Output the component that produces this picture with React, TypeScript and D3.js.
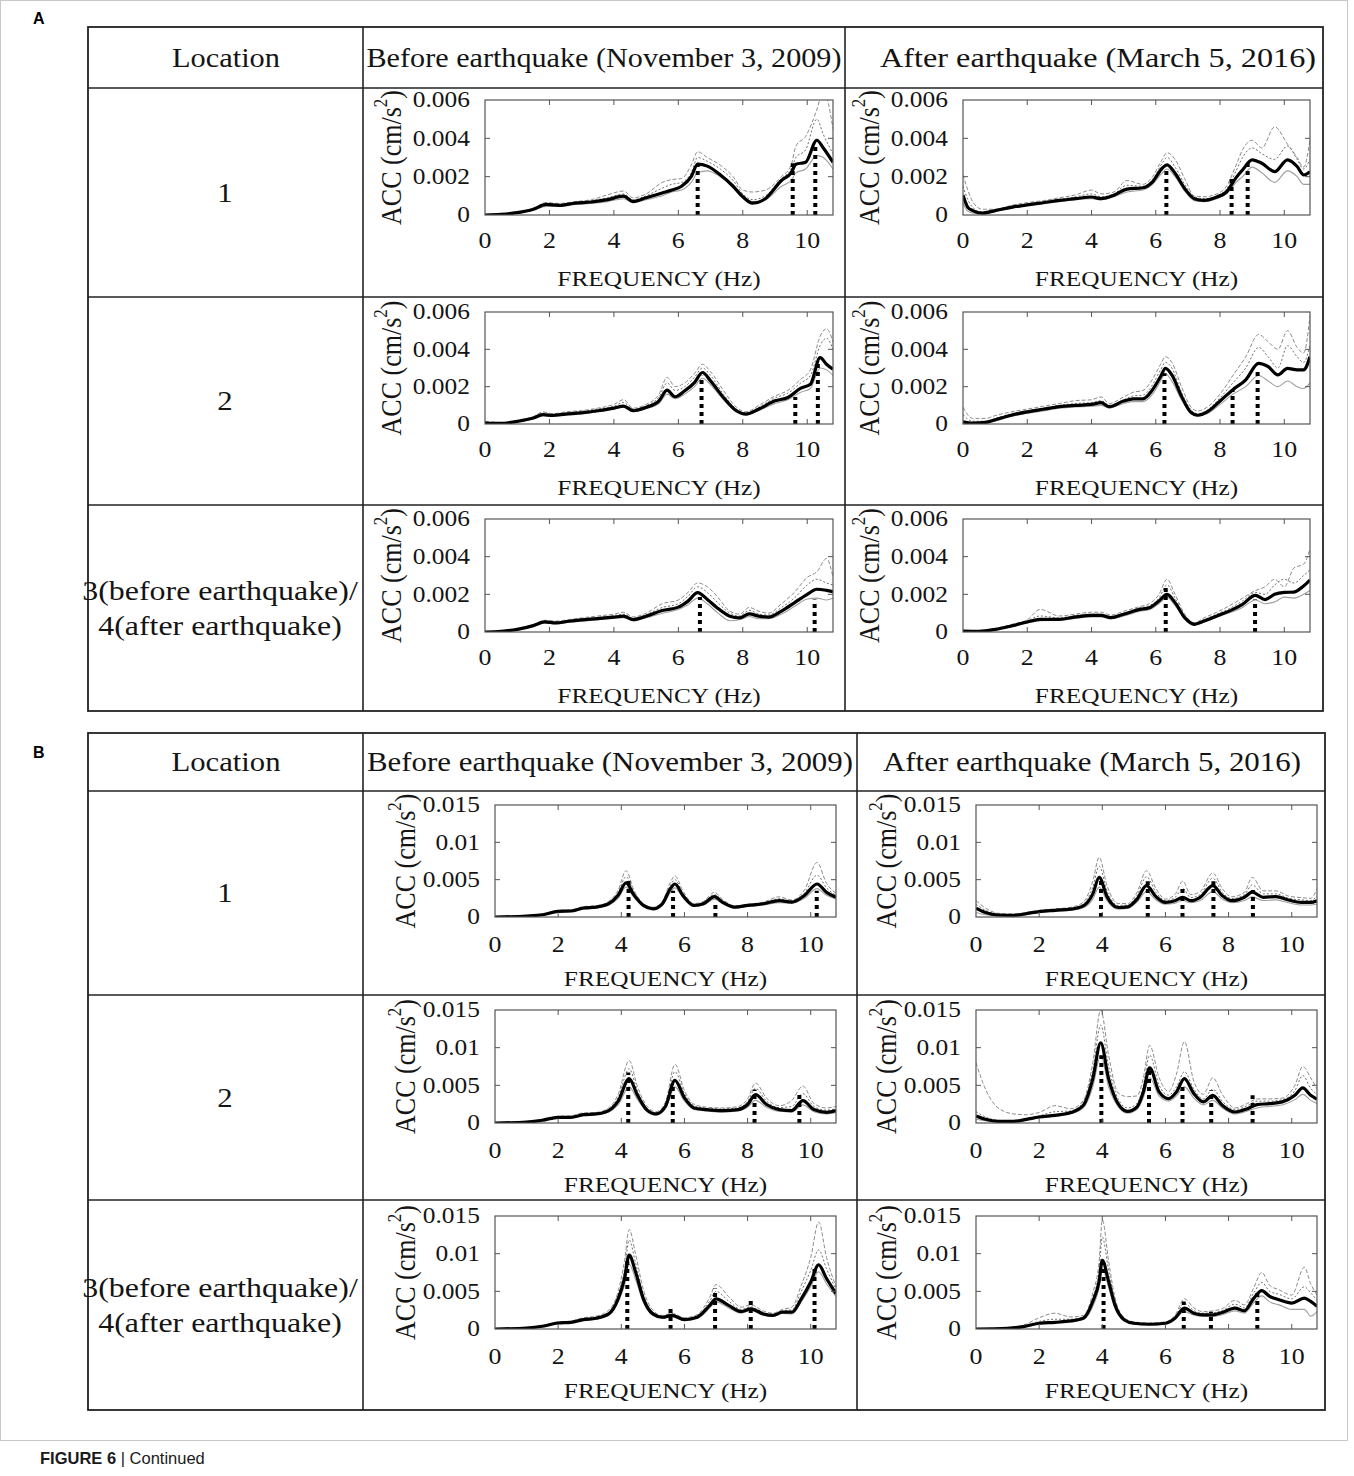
import React from 'react';
import * as d3 from 'd3';

const SERIF = '"Liberation Serif", "Times New Roman", Times, serif';
const SANS = '"Liberation Sans", Arial, Helvetica, sans-serif';
const SX = 1.15;
const X_MAX = 10.8;

// ---------- tick definitions ----------
const X_TICKS = [0, 2, 4, 6, 8, 10];
const Y_TICKS_A = [0, 2, 4, 6]; // units of 1e-3 cm/s^2
const Y_LABELS_A = ['0', '0.002', '0.004', '0.006'];
const Y_TICKS_B = [0, 5, 10, 15];
const Y_LABELS_B = ['0', '0.005', '0.01', '0.015'];

const HEADERS = ['Location', 'Before earthquake (November 3, 2009)', 'After earthquake (March 5, 2016)'];
const ROW_LABELS = [['1'], ['2'], ['3(before earthquake)/', '4(after earthquake)']];

// ---------- data (values in 1e-3 cm/s^2) ----------
// A, location 1, before
const A1B_F = [0, 0.5, 1, 1.5, 1.9, 2.3, 2.8, 3.3, 3.8, 4.3, 4.6, 5.0, 5.5, 5.8, 6.1, 6.4, 6.6, 6.9, 7.3, 7.7, 8.0, 8.3, 8.7, 9.2, 9.5, 9.65, 9.95, 10.3, 10.5, 10.8];
const A1B_MEAN = [0, 0.03, 0.12, 0.3, 0.55, 0.5, 0.62, 0.68, 0.8, 0.98, 0.7, 0.9, 1.15, 1.3, 1.5, 2.0, 2.65, 2.55, 2.1, 1.5, 0.95, 0.62, 0.85, 1.8, 2.2, 2.65, 2.75, 3.9, 3.5, 2.75];
const A1B_G1 = [0, 0.05, 0.15, 0.35, 0.65, 0.6, 0.7, 0.8, 1.05, 1.25, 0.9, 1.1, 1.7, 1.85, 1.9, 2.6, 3.3, 3.0, 2.6, 2.0, 1.3, 1.2, 1.3, 2.0, 2.6, 3.6, 4.1, 5.5, 6.5, 4.5];
const A1B_G2 = [0, 0.04, 0.13, 0.32, 0.6, 0.55, 0.66, 0.75, 0.9, 1.1, 0.8, 1.0, 1.4, 1.6, 1.7, 2.2, 3.0, 2.8, 2.4, 1.8, 1.1, 0.8, 1.0, 1.9, 2.4, 3.0, 3.4, 5.0, 4.2, 3.2];
const A1B_G3 = [0, 0.02, 0.1, 0.25, 0.45, 0.45, 0.55, 0.6, 0.7, 0.85, 0.65, 0.8, 1.0, 1.2, 1.3, 1.7, 2.2, 2.3, 2.0, 1.5, 1.0, 0.7, 0.8, 1.5, 1.8, 2.2, 2.4, 3.1, 3.0, 2.4];
const A1B_PEAKS = [[6.6, 2.6], [9.55, 2.7], [10.25, 3.6]];

// A, location 1, after
const A1A_F = [0, 0.15, 0.3, 0.6, 1.0, 1.5, 2.0, 2.5, 3.0, 3.5, 4.0, 4.3, 4.7, 5.1, 5.6, 5.9, 6.2, 6.35, 6.6, 6.9, 7.2, 7.5, 7.9, 8.2, 8.5, 8.7, 9.0, 9.3, 9.7, 10.1, 10.4, 10.6, 10.8];
const A1A_MEAN = [1.03, 0.4, 0.23, 0.1, 0.23, 0.4, 0.53, 0.64, 0.76, 0.85, 0.94, 0.85, 1.03, 1.35, 1.42, 1.73, 2.44, 2.62, 2.18, 1.38, 0.85, 0.76, 0.94, 1.2, 1.95, 2.35, 2.88, 2.7, 2.26, 2.88, 2.53, 2.09, 2.26];
const A1A_G1 = [2.1, 1.3, 0.7, 0.3, 0.3, 0.5, 0.65, 0.75, 0.9, 1.05, 1.3, 1.1, 1.2, 1.8, 1.6, 2.0, 2.9, 3.25, 2.9, 1.9, 1.0, 0.95, 1.1, 1.5, 2.6, 3.4, 3.9, 3.5, 4.6, 3.7, 3.0, 2.5, 3.9];
const A1A_G2 = [1.5, 0.8, 0.4, 0.15, 0.25, 0.45, 0.58, 0.7, 0.82, 0.95, 1.1, 0.95, 1.1, 1.55, 1.5, 1.85, 2.7, 3.0, 2.5, 1.6, 0.95, 0.85, 1.0, 1.35, 2.3, 3.0, 3.5, 3.2, 2.9, 3.6, 2.9, 2.4, 2.9];
const A1A_G3 = [0.6, 0.2, 0.1, 0.05, 0.18, 0.35, 0.5, 0.6, 0.7, 0.8, 0.85, 0.8, 0.95, 1.2, 1.3, 1.6, 2.2, 2.4, 2.0, 1.25, 0.75, 0.7, 0.85, 1.1, 1.7, 2.0, 2.5, 2.2, 1.7, 2.3, 2.0, 1.6, 1.6];
const A1A_PEAKS = [[6.33, 2.35], [8.36, 2.0], [8.86, 2.7]];

// A, location 2, before
const A2B_F = [0, 0.5, 1.0, 1.5, 1.8, 2.1, 2.5, 3.0, 3.5, 4.0, 4.3, 4.6, 5.0, 5.4, 5.65, 5.9, 6.2, 6.5, 6.75, 7.0, 7.4, 7.8, 8.1, 8.5, 9.0, 9.4, 9.8, 10.1, 10.4, 10.6, 10.8];
const A2B_MEAN = [0.05, 0.03, 0.14, 0.32, 0.5, 0.46, 0.53, 0.6, 0.71, 0.85, 0.96, 0.71, 0.89, 1.24, 1.81, 1.46, 1.78, 2.22, 2.76, 2.31, 1.42, 0.71, 0.53, 0.8, 1.24, 1.42, 1.92, 2.13, 3.56, 3.2, 2.93];
const A2B_G1 = [0.15, 0.08, 0.18, 0.4, 0.65, 0.55, 0.65, 0.72, 0.85, 1.05, 1.3, 0.85, 1.05, 1.6, 2.5, 2.0, 2.2, 2.7, 3.2, 2.8, 1.8, 0.9, 0.65, 1.0, 1.5, 1.8, 2.4, 2.9, 4.7, 5.1, 4.4];
const A2B_G2 = [0.08, 0.05, 0.16, 0.36, 0.58, 0.5, 0.6, 0.68, 0.8, 0.95, 1.15, 0.8, 0.98, 1.45, 2.2, 1.8, 2.0, 2.5, 3.0, 2.6, 1.6, 0.8, 0.6, 0.9, 1.4, 1.65, 2.2, 2.6, 4.2, 4.6, 4.0];
const A2B_G3 = [0.02, 0.02, 0.1, 0.28, 0.45, 0.42, 0.5, 0.56, 0.66, 0.8, 0.9, 0.66, 0.82, 1.1, 1.6, 1.35, 1.6, 2.0, 2.45, 2.1, 1.3, 0.65, 0.5, 0.72, 1.1, 1.3, 1.7, 1.9, 3.0, 2.9, 2.6];
const A2B_PEAKS = [[6.72, 2.58], [9.63, 1.45], [10.33, 3.3]];

// A, location 2, after
const A2A_F = [0, 0.3, 0.7, 1.0, 1.5, 2.0, 2.5, 3.0, 3.5, 4.0, 4.3, 4.55, 5.0, 5.3, 5.6, 5.9, 6.15, 6.3, 6.5, 6.8, 7.1, 7.3, 7.6, 8.0, 8.4, 8.8, 9.2, 9.5, 9.8, 10.1, 10.4, 10.6, 10.8];
const A2A_MEAN = [0.12, 0.05, 0.09, 0.23, 0.47, 0.65, 0.79, 0.93, 1.0, 1.05, 1.14, 0.93, 1.23, 1.35, 1.35, 1.84, 2.54, 2.98, 2.63, 1.49, 0.61, 0.47, 0.65, 1.23, 1.84, 2.37, 3.25, 3.07, 2.63, 2.98, 2.9, 2.9, 3.6];
const A2A_G1 = [0.9, 0.3, 0.3, 0.45, 0.65, 0.8, 0.95, 1.1, 1.25, 1.3, 1.45, 1.1, 1.45, 1.7, 1.8, 2.4, 3.2, 3.6, 3.3, 2.0, 0.9, 0.7, 0.9, 1.6, 2.6, 3.6, 4.8, 4.4, 4.0, 5.0, 4.1, 3.8, 5.8];
const A2A_G2 = [0.5, 0.15, 0.15, 0.3, 0.55, 0.72, 0.85, 1.0, 1.1, 1.15, 1.25, 1.0, 1.3, 1.5, 1.55, 2.1, 2.9, 3.3, 3.0, 1.7, 0.75, 0.55, 0.75, 1.4, 2.2, 3.0, 4.1, 3.6, 3.0, 4.2, 3.6, 3.3, 4.2];
const A2A_G3 = [0.05, 0.02, 0.05, 0.15, 0.4, 0.58, 0.7, 0.85, 0.92, 0.95, 1.0, 0.85, 1.1, 1.2, 1.2, 1.6, 2.3, 2.7, 2.3, 1.3, 0.55, 0.42, 0.55, 1.05, 1.6, 2.0, 2.6, 2.3, 2.0, 2.3, 2.0, 1.9, 2.2];
const A2A_PEAKS = [[6.27, 2.72], [8.39, 1.84], [9.17, 2.98]];

// A, location 3, before
const A3B_F = [0, 0.5, 1.0, 1.5, 1.85, 2.2, 2.6, 3.0, 3.5, 4.0, 4.3, 4.6, 5.0, 5.5, 6.0, 6.3, 6.6, 6.9, 7.2, 7.6, 7.9, 8.2, 8.5, 8.8, 9.2, 9.6, 10.0, 10.3, 10.6, 10.8];
const A3B_MEAN = [0, 0.04, 0.14, 0.34, 0.54, 0.48, 0.57, 0.64, 0.71, 0.79, 0.84, 0.66, 0.84, 1.14, 1.32, 1.64, 2.09, 1.73, 1.29, 0.84, 0.75, 0.96, 0.84, 0.79, 1.11, 1.55, 2.0, 2.27, 2.21, 2.14];
const A3B_G1 = [0.02, 0.06, 0.18, 0.4, 0.62, 0.58, 0.66, 0.75, 0.85, 0.95, 1.05, 0.8, 1.0, 1.5, 1.7, 2.1, 2.6, 2.4, 1.9, 1.1, 0.95, 1.3, 1.1, 1.0, 1.5, 2.1, 2.9, 3.2, 3.9, 2.9];
const A3B_G2 = [0.01, 0.05, 0.16, 0.37, 0.58, 0.53, 0.62, 0.7, 0.78, 0.87, 0.95, 0.73, 0.92, 1.3, 1.5, 1.9, 2.4, 2.1, 1.6, 1.0, 0.85, 1.15, 0.95, 0.9, 1.3, 1.8, 2.5, 2.8, 2.6, 2.5];
const A3B_G3 = [0, 0.02, 0.1, 0.3, 0.48, 0.44, 0.52, 0.58, 0.65, 0.72, 0.76, 0.6, 0.76, 1.0, 1.2, 1.45, 1.8, 1.5, 1.05, 0.6, 0.65, 0.82, 0.7, 0.7, 0.95, 1.35, 1.75, 1.8, 1.7, 1.8];
const A3B_PEAKS = [[6.67, 1.86], [10.23, 1.73]];

// A, location 4, after
const A3A_F = [0, 0.5, 1.0, 1.5, 2.0, 2.4, 3.0, 3.5, 4.0, 4.3, 4.6, 5.0, 5.5, 5.8, 6.1, 6.35, 6.6, 6.9, 7.2, 7.5, 7.9, 8.3, 8.7, 9.1, 9.4, 9.7, 10.0, 10.3, 10.6, 10.8];
const A3A_MEAN = [0.05, 0.04, 0.14, 0.32, 0.53, 0.67, 0.67, 0.8, 0.88, 0.88, 0.76, 0.94, 1.2, 1.29, 1.65, 2.0, 1.56, 0.76, 0.41, 0.58, 0.85, 1.12, 1.47, 1.95, 1.72, 2.0, 2.1, 2.12, 2.44, 2.76];
const A3A_G1 = [0.08, 0.06, 0.18, 0.4, 0.65, 1.2, 0.85, 0.95, 1.05, 1.05, 0.9, 1.1, 1.35, 1.5, 2.0, 2.8, 2.0, 0.95, 0.5, 0.75, 1.05, 1.4, 1.8, 2.2, 2.4, 2.8, 2.4, 3.4, 3.6, 4.4];
const A3A_G2 = [0.06, 0.05, 0.16, 0.36, 0.6, 0.85, 0.75, 0.88, 0.95, 0.95, 0.82, 1.0, 1.28, 1.4, 1.8, 2.5, 1.8, 0.85, 0.45, 0.66, 0.95, 1.25, 1.65, 2.1, 2.0, 2.5, 2.8, 2.6, 3.0, 3.3];
const A3A_G3 = [0.03, 0.02, 0.1, 0.28, 0.48, 0.6, 0.62, 0.72, 0.8, 0.8, 0.7, 0.85, 1.1, 1.18, 1.5, 1.85, 1.4, 0.7, 0.38, 0.52, 0.78, 1.02, 1.3, 1.7, 1.5, 1.6, 1.85, 1.8, 2.0, 2.2];
const A3A_PEAKS = [[6.31, 2.53], [9.09, 1.73]];

// B, location 1, before
const B1B_F = [0, 1.0, 1.5, 2.0, 2.4, 2.8, 3.2, 3.6, 3.9, 4.15, 4.4, 4.7, 5.0, 5.3, 5.55, 5.7, 5.95, 6.3, 6.6, 6.95, 7.2, 7.6, 8.0, 8.5, 9.0, 9.4, 9.8, 10.2, 10.5, 10.8];
const B1B_MEAN = [0, 0.13, 0.3, 0.75, 0.8, 1.2, 1.33, 1.77, 2.9, 4.56, 2.96, 1.55, 1.1, 1.77, 3.76, 4.42, 2.88, 1.55, 1.77, 2.74, 2.0, 1.33, 1.55, 1.77, 2.2, 2.0, 2.88, 4.42, 3.3, 2.65];
const B1B_G1 = [0.05, 0.2, 0.4, 0.9, 0.95, 1.4, 1.5, 2.1, 3.6, 6.2, 3.6, 1.8, 1.3, 2.1, 4.6, 5.5, 3.5, 1.8, 2.1, 3.3, 2.4, 1.5, 1.7, 2.0, 2.7, 2.3, 3.6, 7.3, 4.5, 3.2];
const B1B_G2 = [0.02, 0.17, 0.35, 0.82, 0.88, 1.3, 1.42, 1.95, 3.3, 5.4, 3.3, 1.7, 1.2, 1.95, 4.2, 5.0, 3.2, 1.65, 1.95, 3.0, 2.2, 1.42, 1.62, 1.9, 2.45, 2.15, 3.2, 5.6, 3.9, 2.9];
const B1B_G3 = [0, 0.1, 0.25, 0.65, 0.72, 1.05, 1.2, 1.6, 2.5, 4.0, 2.6, 1.4, 1.0, 1.6, 3.3, 3.9, 2.6, 1.4, 1.6, 2.4, 1.8, 1.2, 1.4, 1.6, 1.9, 1.85, 2.5, 3.8, 2.9, 2.4];
const B1B_PEAKS = [[4.23, 4.9], [5.64, 3.5], [6.98, 2.0], [10.19, 3.5]];

// B, location 1, after
const B1A_F = [0, 0.3, 0.7, 1.2, 1.6, 2.0, 2.5, 3.0, 3.4, 3.7, 3.9, 4.15, 4.5, 4.8, 5.1, 5.4, 5.7, 6.0, 6.3, 6.55, 6.8, 7.1, 7.5, 7.8, 8.1, 8.5, 8.75, 9.1, 9.5, 9.9, 10.3, 10.6, 10.8];
const B1A_MEAN = [1.18, 0.6, 0.27, 0.23, 0.45, 0.73, 0.9, 1.05, 1.5, 3.1, 5.3, 2.73, 1.27, 1.36, 2.4, 4.2, 2.73, 1.95, 2.18, 2.64, 2.18, 2.64, 4.2, 2.86, 2.18, 2.64, 3.32, 2.64, 2.73, 2.27, 1.95, 1.95, 2.18];
const B1A_G1 = [2.2, 1.2, 0.5, 0.4, 0.6, 0.9, 1.1, 1.3, 2.0, 4.8, 8.0, 4.2, 1.8, 1.8, 3.3, 6.2, 3.8, 2.4, 3.0, 4.8, 3.0, 3.4, 5.9, 3.8, 2.7, 3.3, 5.3, 3.5, 3.5, 2.8, 2.6, 2.5, 3.8];
const B1A_G2 = [1.7, 0.9, 0.4, 0.32, 0.52, 0.8, 1.0, 1.18, 1.75, 4.0, 6.8, 3.5, 1.55, 1.6, 2.9, 5.4, 3.3, 2.2, 2.6, 3.8, 2.6, 3.0, 5.2, 3.3, 2.45, 3.0, 4.3, 3.1, 3.1, 2.5, 2.3, 2.2, 2.8];
const B1A_G3 = [0.6, 0.3, 0.15, 0.15, 0.35, 0.6, 0.78, 0.9, 1.25, 2.4, 4.0, 2.2, 1.05, 1.15, 2.0, 3.4, 2.3, 1.7, 1.85, 2.2, 1.9, 2.2, 3.4, 2.4, 1.9, 2.2, 2.7, 2.2, 2.3, 1.9, 1.6, 1.6, 1.7];
const B1A_PEAKS = [[3.96, 5.0], [5.44, 4.8], [6.54, 4.0], [7.52, 4.8], [8.77, 3.6]];

// B, location 2, before
const B2B_F = [0, 1.0, 1.5, 2.0, 2.4, 2.8, 3.2, 3.6, 3.9, 4.25, 4.5, 4.8, 5.1, 5.4, 5.7, 6.0, 6.3, 6.7, 7.2, 7.7, 8.0, 8.25, 8.6, 9.0, 9.4, 9.75, 10.1, 10.5, 10.8];
const B2B_MEAN = [0, 0.13, 0.36, 0.76, 0.76, 1.11, 1.2, 1.65, 2.9, 5.9, 3.8, 1.78, 1.2, 2.22, 5.65, 3.34, 2.0, 1.78, 1.65, 1.78, 2.45, 3.78, 2.45, 1.78, 1.65, 2.98, 1.78, 1.42, 1.65];
const B2B_G1 = [0.05, 0.2, 0.45, 0.9, 0.95, 1.35, 1.4, 2.0, 3.8, 8.3, 5.0, 2.3, 1.5, 2.8, 7.8, 4.3, 2.5, 2.1, 2.0, 2.2, 3.2, 5.3, 3.3, 2.3, 3.0, 4.9, 2.6, 2.0, 2.2];
const B2B_G2 = [0.02, 0.17, 0.4, 0.83, 0.86, 1.25, 1.3, 1.85, 3.4, 7.2, 4.4, 2.05, 1.35, 2.5, 6.8, 3.9, 2.3, 1.95, 1.85, 2.0, 2.85, 4.6, 2.9, 2.05, 2.2, 3.9, 2.2, 1.7, 1.9];
const B2B_G3 = [0, 0.1, 0.3, 0.68, 0.68, 1.0, 1.1, 1.45, 2.4, 4.8, 3.2, 1.55, 1.05, 1.9, 4.8, 2.9, 1.8, 1.6, 1.45, 1.6, 2.1, 3.0, 2.1, 1.55, 1.45, 2.4, 1.5, 1.2, 1.4];
const B2B_PEAKS = [[4.22, 6.7], [5.63, 4.9], [8.22, 4.45], [9.64, 3.9]];

// B, location 2, after
const B2A_F = [0, 0.3, 0.7, 1.2, 1.6, 2.0, 2.5, 3.0, 3.4, 3.7, 3.95, 4.2, 4.5, 4.8, 5.1, 5.3, 5.5, 5.8, 6.1, 6.35, 6.6, 6.9, 7.2, 7.5, 7.8, 8.2, 8.6, 8.9, 9.3, 9.7, 10.1, 10.35, 10.6, 10.8];
const B2A_MEAN = [0.93, 0.49, 0.22, 0.22, 0.49, 0.8, 1.02, 1.38, 2.35, 5.9, 10.65, 5.9, 2.57, 1.55, 2.13, 4.13, 7.32, 4.13, 3.24, 4.13, 5.9, 3.9, 2.8, 3.68, 2.35, 1.46, 1.9, 2.44, 2.57, 2.8, 3.68, 4.66, 3.68, 3.15];
const B2A_G1 = [8.0, 4.5, 2.0, 1.2, 1.1, 1.4, 2.3, 1.9, 3.0, 8.0, 15.0, 9.0, 4.0, 3.5, 3.6, 6.0, 10.3, 6.0, 4.2, 6.5, 10.8, 5.5, 3.8, 6.0, 3.8, 2.0, 2.6, 3.2, 3.2, 3.3, 5.0, 7.5, 6.0, 4.5];
const B2A_G2 = [1.5, 0.8, 0.35, 0.3, 0.6, 0.95, 1.5, 1.6, 2.8, 7.0, 13.0, 7.5, 3.2, 2.0, 2.6, 5.0, 9.0, 5.0, 3.7, 4.8, 6.8, 4.5, 3.2, 4.5, 2.9, 1.8, 2.3, 2.9, 2.9, 3.1, 4.3, 6.3, 4.6, 3.8];
const B2A_G3 = [0.5, 0.3, 0.15, 0.15, 0.4, 0.7, 0.9, 1.2, 2.0, 4.8, 9.0, 4.8, 2.2, 1.3, 1.8, 3.4, 6.0, 3.6, 2.9, 3.6, 4.8, 3.3, 2.4, 3.0, 2.0, 1.2, 1.6, 2.0, 2.2, 2.4, 3.1, 3.8, 3.0, 2.6];
const B2A_PEAKS = [[3.97, 9.0], [5.48, 7.0], [6.54, 5.0], [7.45, 4.35], [8.76, 3.7]];

// B, location 3, before
const B3B_F = [0, 1.0, 1.5, 2.0, 2.4, 2.8, 3.2, 3.6, 3.9, 4.1, 4.25, 4.45, 4.7, 5.0, 5.3, 5.6, 6.0, 6.4, 6.8, 7.0, 7.4, 7.8, 8.1, 8.5, 8.8, 9.1, 9.4, 9.7, 10.0, 10.25, 10.5, 10.8];
const B3B_MEAN = [0, 0.13, 0.36, 0.8, 0.89, 1.25, 1.43, 2.0, 4.0, 6.7, 9.8, 7.6, 4.0, 2.0, 1.56, 1.8, 1.25, 1.56, 3.13, 4.0, 3.13, 2.32, 2.68, 2.0, 1.8, 2.23, 2.23, 4.0, 6.25, 8.5, 6.7, 4.7];
const B3B_G1 = [0.05, 0.2, 0.45, 0.95, 1.05, 1.5, 1.7, 2.5, 5.0, 9.0, 13.2, 10.0, 5.2, 2.5, 1.8, 2.1, 1.5, 1.9, 4.2, 5.9, 4.3, 2.9, 3.2, 2.4, 2.1, 2.6, 2.9, 5.8, 9.5, 14.2, 9.5, 5.6];
const B3B_G2 = [0.02, 0.17, 0.4, 0.87, 0.97, 1.38, 1.56, 2.25, 4.5, 7.8, 11.8, 8.8, 4.6, 2.25, 1.7, 1.95, 1.38, 1.75, 3.7, 5.0, 3.7, 2.6, 2.95, 2.2, 1.95, 2.4, 2.55, 5.0, 7.8, 10.5, 8.0, 5.2];
const B3B_G3 = [0, 0.1, 0.3, 0.72, 0.82, 1.15, 1.3, 1.8, 3.6, 5.8, 8.6, 6.6, 3.5, 1.8, 1.4, 1.65, 1.15, 1.4, 2.8, 3.6, 2.8, 2.1, 2.45, 1.8, 1.65, 2.05, 2.0, 3.6, 5.6, 7.6, 6.0, 4.3];
const B3B_PEAKS = [[4.19, 9.6], [5.56, 2.68], [6.97, 5.36], [8.1, 4.24], [10.12, 8.0]];

// B, location 4, after
const B3A_F = [0, 1.0, 1.5, 2.0, 2.5, 3.0, 3.4, 3.7, 3.9, 4.0, 4.2, 4.4, 4.7, 5.0, 5.5, 6.0, 6.3, 6.6, 6.9, 7.2, 7.5, 7.8, 8.2, 8.5, 8.8, 9.05, 9.3, 9.6, 10.0, 10.4, 10.6, 10.8];
const B3A_MEAN = [0, 0.09, 0.31, 0.76, 0.89, 1.07, 1.43, 3.66, 6.34, 9.1, 6.34, 3.2, 1.2, 0.76, 0.63, 0.76, 1.43, 2.77, 2.1, 1.88, 1.88, 2.19, 2.77, 2.41, 4.1, 5.09, 4.33, 3.88, 3.44, 4.1, 3.66, 3.0];
const B3A_G1 = [0.05, 0.2, 0.5, 1.5, 2.1, 1.6, 1.8, 4.8, 9.0, 14.5, 9.0, 4.2, 1.5, 0.95, 0.8, 0.95, 1.8, 4.0, 2.8, 2.3, 2.4, 2.7, 3.8, 3.2, 5.5, 7.5, 5.8, 5.2, 4.5, 8.2, 6.0, 4.5];
const B3A_G2 = [0.02, 0.15, 0.4, 1.0, 1.3, 1.3, 1.6, 4.2, 7.8, 12.2, 7.8, 3.8, 1.35, 0.85, 0.72, 0.85, 1.6, 3.4, 2.45, 2.1, 2.15, 2.45, 3.3, 2.8, 4.8, 6.2, 5.0, 4.6, 4.0, 5.6, 4.8, 3.8];
const B3A_G3 = [0, 0.06, 0.25, 0.65, 0.78, 0.95, 1.25, 3.0, 5.5, 8.0, 5.5, 2.8, 1.05, 0.65, 0.55, 0.65, 1.25, 2.3, 1.85, 1.65, 1.65, 1.9, 2.4, 2.1, 3.5, 4.4, 3.6, 3.2, 2.6, 2.6, 1.7, 2.3];
const B3A_PEAKS = [[4.04, 8.8], [6.58, 3.66], [7.44, 2.3], [8.91, 4.8]];

// ---------- layout ----------
const A_COLS = [{ L: 485, R: 833 }, { L: 963, R: 1310 }];
const A_ROWS = [{ T: 100, B: 215 }, { T: 312, B: 424 }, { T: 519, B: 632 }];
const B_COLS = [{ L: 495, R: 836 }, { L: 976, R: 1317 }];
const B_ROWS = [{ T: 805, B: 917 }, { T: 1010, B: 1123 }, { T: 1216, B: 1329 }];

const GRAY_STYLES = [
  { stroke: '#8c8c8c', dash: '4,2', width: 1 },
  { stroke: '#6e6e6e', dash: '2,2', width: 1 },
  { stroke: '#a0a0a0', dash: '', width: 1.1 },
];

type PanelData = { f: number[]; mean: number[]; grays: number[][]; peaks: number[][] };

const A_PANELS: PanelData[][] = [
  [
    { f: A1B_F, mean: A1B_MEAN, grays: [A1B_G1, A1B_G2, A1B_G3], peaks: A1B_PEAKS },
    { f: A1A_F, mean: A1A_MEAN, grays: [A1A_G1, A1A_G2, A1A_G3], peaks: A1A_PEAKS },
  ],
  [
    { f: A2B_F, mean: A2B_MEAN, grays: [A2B_G1, A2B_G2, A2B_G3], peaks: A2B_PEAKS },
    { f: A2A_F, mean: A2A_MEAN, grays: [A2A_G1, A2A_G2, A2A_G3], peaks: A2A_PEAKS },
  ],
  [
    { f: A3B_F, mean: A3B_MEAN, grays: [A3B_G1, A3B_G2, A3B_G3], peaks: A3B_PEAKS },
    { f: A3A_F, mean: A3A_MEAN, grays: [A3A_G1, A3A_G2, A3A_G3], peaks: A3A_PEAKS },
  ],
];
const B_PANELS: PanelData[][] = [
  [
    { f: B1B_F, mean: B1B_MEAN, grays: [B1B_G1, B1B_G2, B1B_G3], peaks: B1B_PEAKS },
    { f: B1A_F, mean: B1A_MEAN, grays: [B1A_G1, B1A_G2, B1A_G3], peaks: B1A_PEAKS },
  ],
  [
    { f: B2B_F, mean: B2B_MEAN, grays: [B2B_G1, B2B_G2, B2B_G3], peaks: B2B_PEAKS },
    { f: B2A_F, mean: B2A_MEAN, grays: [B2A_G1, B2A_G2, B2A_G3], peaks: B2A_PEAKS },
  ],
  [
    { f: B3B_F, mean: B3B_MEAN, grays: [B3B_G1, B3B_G2, B3B_G3], peaks: B3B_PEAKS },
    { f: B3A_F, mean: B3A_MEAN, grays: [B3A_G1, B3A_G2, B3A_G3], peaks: B3A_PEAKS },
  ],
];

function SText(props: { x: number; y: number; size: number; anchor?: string; rotate?: number; family?: string; weight?: string | number; sx?: number; children: any }) {
  const { x, y, size, anchor = 'middle', rotate = 0, family = SERIF, weight = 'normal', sx = SX, children } = props;
  return (
    <text
      transform={`translate(${x},${y}) scale(${sx},1)${rotate ? ` rotate(${rotate})` : ''}`}
      fontSize={size}
      fontFamily={family}
      fontWeight={weight}
      textAnchor={anchor}
      dominantBaseline="central"
      fill="#141414"
    >
      {children}
    </text>
  );
}

function Plot(props: { id: string; d: PanelData; L: number; R: number; T: number; B: number; kind: 'A' | 'B' }) {
  const { id, d, L, R, T, B, kind } = props;
  const yTicks = kind === 'A' ? Y_TICKS_A : Y_TICKS_B;
  const yLabels = kind === 'A' ? Y_LABELS_A : Y_LABELS_B;
  const x = d3.scaleLinear().domain([0, X_MAX]).range([L, R]);
  const y = d3.scaleLinear().domain([0, yTicks[yTicks.length - 1]]).range([B, T]);
  const mk = (vals: number[]) =>
    d3.line<number>().x((_, i) => x(d.f[i])).y((v) => y(v)).curve(d3.curveMonotoneX)(vals) || '';
  const tickLen = 5;
  const accX = kind === 'A' ? L - 93 : L - 89;
  const xLabY = kind === 'A' ? B + 25 : B + 27;
  const freqY = kind === 'A' ? B + 64 : B + 62;
  return (
    <g>
      <defs>
        <clipPath id={id}>
          <rect x={L} y={T} width={R - L} height={B - T} />
        </clipPath>
      </defs>
      <g clipPath={`url(#${id})`}>
        {d.grays.map((g, i) => (
          <path key={i} d={mk(g)} fill="none" stroke={GRAY_STYLES[i].stroke} strokeWidth={GRAY_STYLES[i].width} strokeDasharray={GRAY_STYLES[i].dash} />
        ))}
        <path d={mk(d.mean)} fill="none" stroke="#000" strokeWidth={3.2} strokeLinejoin="round" />
      </g>
      {d.peaks.map((p, i) => (
        <line key={i} x1={x(p[0])} x2={x(p[0])} y1={y(0)} y2={y(p[1])} stroke="#000" strokeWidth={4} strokeDasharray="4,4" />
      ))}
      <rect x={L} y={T} width={R - L} height={B - T} fill="none" stroke="#555" strokeWidth={1.2} />
      {X_TICKS.filter((t) => t > 0).map((t) => (
        <g key={t}>
          <line x1={x(t)} x2={x(t)} y1={T} y2={T + tickLen} stroke="#555" strokeWidth={1} />
          <line x1={x(t)} x2={x(t)} y1={B} y2={B - tickLen} stroke="#555" strokeWidth={1} />
        </g>
      ))}
      {yTicks.slice(1, -1).map((t) => (
        <g key={t}>
          <line x1={L} x2={L + tickLen} y1={y(t)} y2={y(t)} stroke="#555" strokeWidth={1} />
          <line x1={R} x2={R - tickLen} y1={y(t)} y2={y(t)} stroke="#555" strokeWidth={1} />
        </g>
      ))}
      {X_TICKS.map((t) => (
        <SText key={t} x={x(t)} y={xLabY} size={22.5}>{String(t)}</SText>
      ))}
      {yTicks.map((t, i) => (
        <SText key={t} x={L - 15} y={y(t)} size={22.5} sx={1.13} anchor="end">{yLabels[i]}</SText>
      ))}
      <SText x={(L + R) / 2} y={freqY} size={22}>FREQUENCY (Hz)</SText>
      <SText x={accX} y={(T + B) / 2} size={26} rotate={-90} sx={1.1}>
        ACC (cm/s<tspan dy={-10} fontSize={17}>2</tspan><tspan dy={10}>)</tspan>
      </SText>
    </g>
  );
}

function Table(props: { top: number; left: number; right: number; cols: number[]; rows: number[]; headerW: number[]; headerCx: number[] }) {
  const { top, left, right, cols, rows, headerW, headerCx } = props;
  const bottom = rows[rows.length - 1];
  const lines: any[] = [];
  cols.forEach((cx, i) => lines.push(<line key={'c' + i} x1={cx} x2={cx} y1={top} y2={bottom} stroke="#222" strokeWidth={1.6} />));
  rows.slice(0, -1).forEach((ry, i) => lines.push(<line key={'r' + i} x1={left} x2={right} y1={ry} y2={ry} stroke="#222" strokeWidth={1.6} />));
  const headerY = (top + rows[0]) / 2;
  return (
    <g>
      <rect x={left} y={top} width={right - left} height={bottom - top} fill="none" stroke="#222" strokeWidth={1.8} />
      {lines}
      {HEADERS.map((h, i) => (
        <text key={h} x={headerCx[i]} y={headerY} fontSize={27} fontFamily={SERIF} textAnchor="middle" dominantBaseline="central" textLength={headerW[i]} lengthAdjust="spacingAndGlyphs" fill="#141414">
          {h}
        </text>
      ))}
      {ROW_LABELS.map((lab, i) => {
        const cy = (rows[i] + rows[i + 1]) / 2;
        return lab.map((t, j) => (
          <SText key={t} x={lab.length === 1 ? 225 : 220} y={cy + (lab.length === 1 ? 0 : (j - 0.5) * 35)} size={lab.length === 1 ? 27 : 28} sx={1.14}>{t}</SText>
        ));
      })}
    </g>
  );
}

export default function App() {
  return (
    <svg width={1354} height={1476} style={{ position: 'absolute', left: 0, top: 0, background: '#fff' }}>
      <rect x={0} y={0} width={1354} height={1476} fill="#fff" />
      <rect x={0.5} y={0.5} width={1347} height={1440} fill="none" stroke="#c8c8c8" strokeWidth={1} />
      <text x={33} y={18} fontSize={16} fontFamily={SANS} fontWeight="bold" dominantBaseline="central">A</text>
      <text x={33} y={752} fontSize={16} fontFamily={SANS} fontWeight="bold" dominantBaseline="central">B</text>

      <Table top={27} left={88} right={1323} cols={[363, 845]} rows={[88, 297, 505, 711]} headerW={[108, 475, 436]} headerCx={[226, 604, 1098]} />
      <Table top={733} left={88} right={1325} cols={[363, 857]} rows={[791, 995, 1200, 1410]} headerW={[109, 486, 418]} headerCx={[226, 610, 1092]} />

      {A_PANELS.map((row, ri) =>
        row.map((d, ci) => (
          <Plot key={`a${ri}${ci}`} id={`clipA${ri}${ci}`} d={d} kind="A" L={A_COLS[ci].L} R={A_COLS[ci].R} T={A_ROWS[ri].T} B={A_ROWS[ri].B} />
        ))
      )}
      {B_PANELS.map((row, ri) =>
        row.map((d, ci) => (
          <Plot key={`b${ri}${ci}`} id={`clipB${ri}${ci}`} d={d} kind="B" L={B_COLS[ci].L} R={B_COLS[ci].R} T={B_ROWS[ri].T} B={B_ROWS[ri].B} />
        ))
      )}

      <text x={40} y={1458} fontSize={16.5} fontFamily={SANS} dominantBaseline="central" fill="#1a1a1a">
        <tspan fontWeight="bold">FIGURE 6</tspan>
        <tspan> | Continued</tspan>
      </text>
    </svg>
  );
}
